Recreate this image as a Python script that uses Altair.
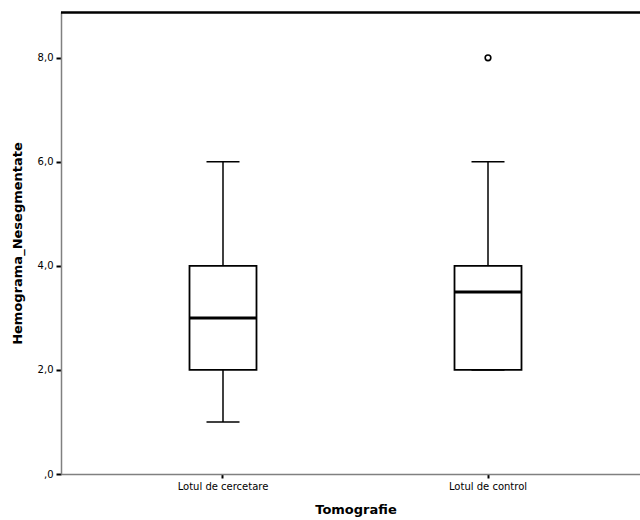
import altair as alt
import pandas as pd

# Summary statistics per group (box plot of Hemograma_Nesegmentate by Tomografie)
groups = ["Lotul de cercetare", "Lotul de control"]
whisker_low = [1.0, 2.0]
q1 = [2.0, 2.0]
median = [3.0, 3.5]
q3 = [4.0, 4.0]
whisker_high = [6.0, 6.0]

outlier_groups = ["Lotul de control"]
outlier_values = [8.0]

stats = pd.DataFrame({
    "grup": groups,
    "lo": whisker_low,
    "q1": q1,
    "med": median,
    "q3": q3,
    "hi": whisker_high,
})
outliers = pd.DataFrame({"grup": outlier_groups, "val": outlier_values})

FONT = "DejaVu Sans"

x_enc = alt.X(
    "grup:N",
    sort=groups,
    title="Tomografie",
    scale=alt.Scale(range=[0, 589], paddingInner=0.7472, paddingOuter=0.4849),
    axis=alt.Axis(
        labelAngle=0,
        labelFont=FONT,
        labelFontSize=10,
        labelColor="black",
        labelPadding=3,
        tickSize=4,
        tickColor="black",
        tickWidth=2,
        domainColor="#808080",
        domainWidth=1.5,
        titleFont=FONT,
        titleFontSize=13,
        titleFontWeight="bold",
        titleColor="black",
        titlePadding=12,
    ),
)

y_scale = alt.Scale(domain=[0, 8.88], nice=False, zero=True)

y_axis = alt.Axis(
    values=[0, 2, 4, 6, 8],
    labelExpr="datum.value == 0 ? ',0' : replace(format(datum.value, '.1f'), '.', ',')",
    labelFont=FONT,
    labelFontSize=10,
    labelColor="black",
    labelPadding=3,
    tickSize=5,
    tickColor="black",
    tickWidth=2,
    domainColor="#808080",
    domainWidth=1.5,
    grid=False,
    titleFont=FONT,
    titleFontSize=13,
    titleFontWeight="bold",
    titleColor="black",
    titlePadding=13,
)

base = alt.Chart(stats)

whisker_low_rule = base.mark_rule(color="black", strokeWidth=1.5).encode(
    x=x_enc,
    y=alt.Y("lo:Q", scale=y_scale, axis=y_axis, title="Hemograma_Nesegmentate"),
    y2="q1:Q",
)
whisker_high_rule = base.mark_rule(color="black", strokeWidth=1.5).encode(
    x="grup:N", y="q3:Q", y2="hi:Q"
)
cap_low = base.mark_tick(color="black", opacity=1, thickness=1.5, size=33, orient="horizontal").encode(
    x="grup:N", y="lo:Q"
)
cap_high = base.mark_tick(color="black", opacity=1, thickness=1.5, size=33, orient="horizontal").encode(
    x="grup:N", y="hi:Q"
)
box = base.mark_bar(fill="white", stroke="black", strokeWidth=1.8, opacity=1).encode(
    x="grup:N", y="q1:Q", y2="q3:Q"
)
median_line = base.mark_tick(color="black", opacity=1, thickness=3, size=67, orient="horizontal").encode(
    x="grup:N", y="med:Q"
)
outlier_pts = alt.Chart(outliers).mark_point(
    shape="circle", size=32, filled=False, color="black", strokeWidth=1.6,
    fill="white", fillOpacity=1, opacity=1
).encode(x="grup:N", y="val:Q")

top_frame = alt.Chart(stats).mark_rule(color="black", strokeWidth=2).encode(
    x=alt.value(0), x2=alt.value(600), y=alt.value(0.5)
)

chart = (
    alt.layer(whisker_low_rule, whisker_high_rule, cap_low, cap_high, box, median_line, outlier_pts, top_frame)
    .properties(
        width=579,
        height=462,
        autosize=alt.AutoSizeParams(type="none"),
        padding={"left": 61, "top": 12, "right": 0, "bottom": 46},
    )
    .configure_view(stroke=None)
    .configure(background="white")
)

chart.save("out.html", embed_options={"renderer": "svg", "actions": False})
